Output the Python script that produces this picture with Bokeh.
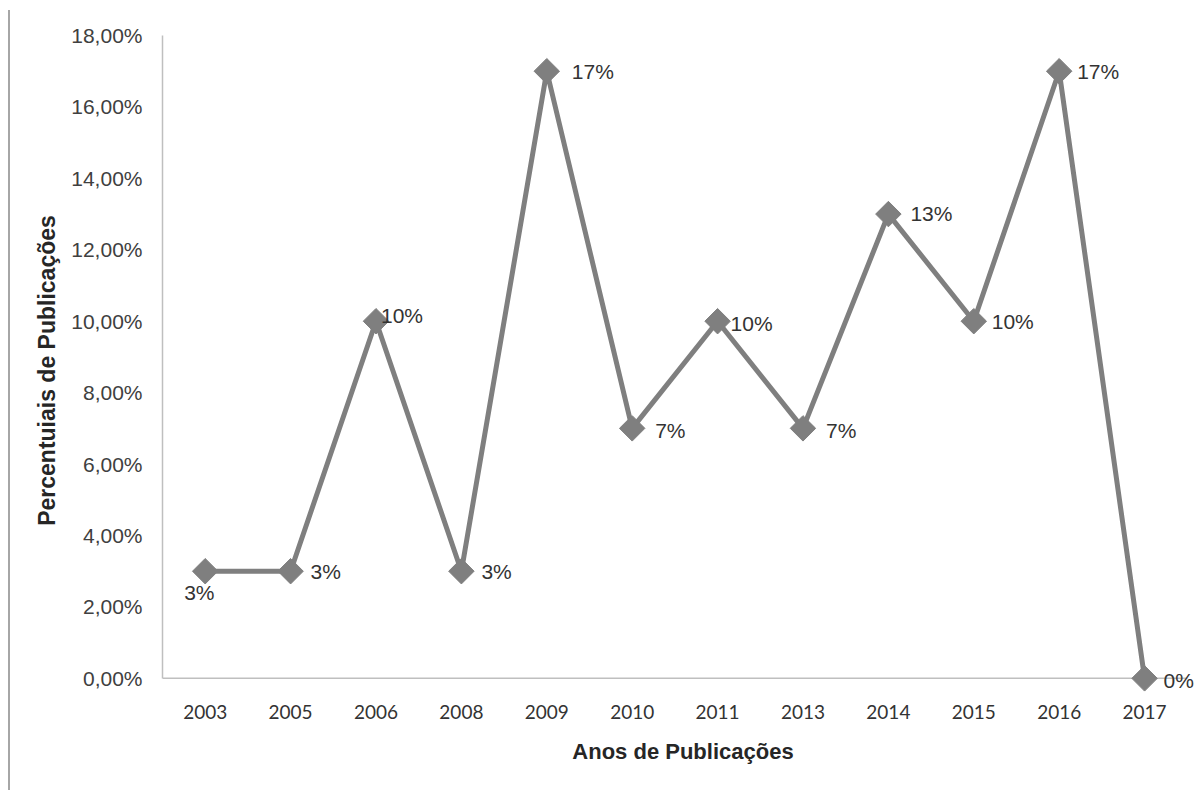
from bokeh.plotting import figure
from bokeh.models import ColumnDataSource, Range1d, FixedTicker, LabelSet
from bokeh.core.properties import value
from bokeh.embed import file_html
from bokeh.resources import INLINE

# Publication share per year (percent)
years = ["2003", "2005", "2006", "2008", "2009", "2010", "2011", "2013", "2014", "2015", "2016", "2017"]
percents = [3, 3, 10, 3, 17, 7, 10, 7, 13, 10, 17, 0]
y_ticks = [0, 2, 4, 6, 8, 10, 12, 14, 16, 18]
y_tick_labels = ["0,00%", "2,00%", "4,00%", "6,00%", "8,00%", "10,00%", "12,00%", "14,00%", "16,00%", "18,00%"]

# label placement relative to each marker (pixels, y positive = up)
label_dx = [-21, 20, 5, 20, 25, 23, 13, 23, 22, 18, 18, 19]
label_dy = [-21, 0, 6, 0, 0, -2, -2, -2, 1, 0, 0, -2]

GRAY = "#7f7f7f"
AXIS_GRAY = "#bfbfbf"

# each year sits in the middle of its own category slot
slots = [i + 0.5 for i in range(len(years))]

source = ColumnDataSource(dict(
    x=slots,
    pct=percents,
    label=[f"{v}%" for v in percents],
    dx=label_dx,
    dy=label_dy,
))

# the frame reaches a little below zero so labels near the baseline stay visible
p = figure(
    width=1193, height=780,
    x_range=Range1d(0, len(years) + 0.19),
    y_range=Range1d(-0.76, 18),
    output_backend="svg",
    toolbar_location=None,
    min_border_left=152, min_border_right=0,
    min_border_top=25, min_border_bottom=85,
)
p.margin = (10, 0, 0, 8)
p.styles = {"border-left": "2px solid #a6a6a6"}
p.background_fill_color = "white"
p.border_fill_color = "white"
p.outline_line_color = None
p.xgrid.grid_line_color = None
p.ygrid.grid_line_color = None

# category axis baseline at zero
p.segment(x0=[0], y0=[0], x1=[len(years)], y1=[0], line_color=AXIS_GRAY, line_width=1.5)

p.line("x", "pct", source=source, line_color=GRAY, line_width=5)
p.scatter("x", "pct", source=source, marker="square", size=18, angle=0.785398,
          fill_color=GRAY, line_color=GRAY)

labels = LabelSet(x="x", y="pct", text="label", source=source,
                  x_offset="dx", y_offset="dy",
                  text_align="left", text_baseline="middle",
                  text_font=value("Liberation Sans"), text_font_size=value("21px"),
                  text_color="#333333")
p.add_layout(labels)

# y axis
ya = p.yaxis[0]
ya.ticker = FixedTicker(ticks=y_ticks)
ya.major_label_overrides = {t: s for t, s in zip(y_ticks, y_tick_labels)}
ya.bounds = (0, 18)
ya.major_tick_line_color = None
ya.minor_tick_line_color = None
ya.axis_line_color = AXIS_GRAY
ya.axis_line_width = 1.5
ya.major_label_text_font = "Liberation Sans"
ya.major_label_text_font_size = "21px"
ya.major_label_text_color = "#404040"
ya.major_label_standoff = 14
ya.axis_label = "Percentuiais de Publicações"
ya.axis_label_text_font = "Liberation Sans"
ya.axis_label_text_font_style = "bold"
ya.axis_label_text_font_size = "23px"
ya.axis_label_text_color = "#262626"
ya.axis_label_standoff = 8

# x axis: one label per category slot
xa = p.xaxis[0]
xa.ticker = FixedTicker(ticks=slots)
xa.major_label_overrides = {s: y for s, y in zip(slots, years)}
xa.axis_line_color = None
xa.major_tick_line_color = None
xa.minor_tick_line_color = None
xa.major_label_text_font = "Lato"
xa.major_label_text_font_size = "19px"
xa.major_label_text_color = "#333333"
xa.major_label_standoff = -7
xa.axis_label = "Anos de Publicações"
xa.axis_label_text_font = "Liberation Sans"
xa.axis_label_text_font_style = "bold"
xa.axis_label_text_font_size = "22px"
xa.axis_label_text_color = "#262626"
xa.axis_label_standoff = 17

open("out.html", "w").write(file_html(p, INLINE))
